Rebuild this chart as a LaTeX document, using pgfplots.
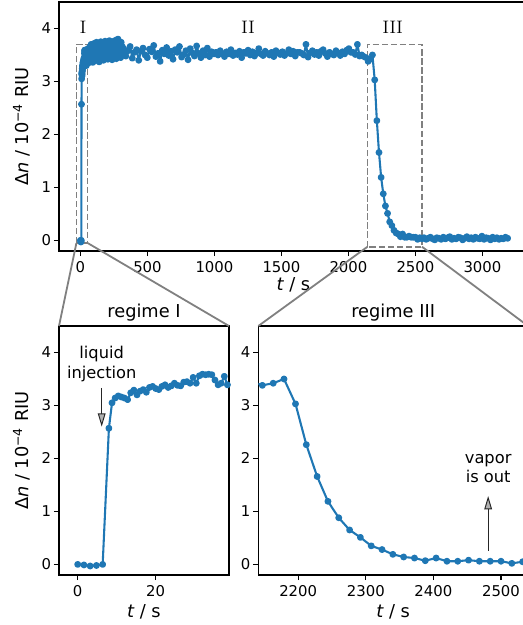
\documentclass[border=0pt]{standalone}
\usepackage{fontspec}
\usepackage{pgfplots}
\pgfplotsset{compat=1.18}
\usepackage{pgfplotstable}
\usetikzlibrary{arrows.meta}
\newfontfamily\dv{DejaVu Sans}
\definecolor{C0}{RGB}{31,119,180}

\pgfplotstableread{
x y
0 0.00
1.6 -0.01
3.2 -0.03
4.8 -0.02
6.4 0.00
8.0 2.57
8.8 3.05
9.6 3.14
10.4 3.18
11.2 3.16
12.0 3.14
12.8 3.11
13.6 3.24
14.4 3.29
15.2 3.20
16.0 3.27
16.8 3.30
17.6 3.25
18.4 3.34
19.2 3.36
20.0 3.32
20.8 3.30
21.6 3.36
22.4 3.39
23.2 3.34
24.0 3.37
24.8 3.42
25.6 3.38
26.4 3.37
27.2 3.44
28.0 3.45
28.8 3.42
29.6 3.53
30.4 3.42
31.2 3.56
32.0 3.59
32.8 3.58
33.6 3.59
34.4 3.58
35.2 3.48
36.0 3.39
36.8 3.42
37.6 3.55
38.4 3.39
39.2 3.45
}\tA

\pgfplotstableread{
x y
40 3.42
44 3.30
48 3.55
52 3.38
56 3.62
60 3.35
64 3.58
68 3.44
72 3.66
76 3.40
80 3.70
84 3.42
88 3.60
92 3.36
96 3.68
100 3.48
104 3.72
108 3.39
112 3.62
116 3.45
120 3.74
124 3.41
128 3.65
132 3.50
136 3.71
140 3.37
144 3.69
148 3.46
152 3.75
156 3.43
160 3.66
164 3.52
168 3.73
172 3.40
176 3.70
180 3.47
184 3.76
188 3.44
192 3.64
196 3.55
200 3.72
204 3.42
208 3.68
212 3.49
216 3.77
220 3.45
224 3.63
228 3.53
232 3.74
236 3.41
240 3.70
244 3.50
248 3.76
252 3.46
256 3.67
260 3.55
264 3.78
268 3.43
272 3.71
276 3.52
280 3.80
284 3.48
288 3.73
292 3.56
296 3.69
300 3.45
304 3.74
308 3.50
312 3.66
316 3.58
}\tB

\pgfplotstableread{
x y
323 3.62
339 3.48
355 3.58
371 3.66
387 3.44
403 3.55
419 3.60
435 3.40
451 3.57
467 3.63
483 3.50
499 3.45
515 3.61
531 3.56
547 3.68
563 3.47
579 3.53
595 3.38
611 3.59
627 3.52
643 3.64
659 3.49
675 3.57
691 3.42
707 3.60
723 3.55
739 3.66
755 3.46
771 3.51
787 3.58
803 3.41
819 3.62
835 3.54
851 3.48
867 3.67
883 3.53
899 3.45
915 3.58
931 3.50
947 3.63
963 3.47
979 3.56
995 3.52
1011 3.55
1027 3.50
1043 3.58
1059 3.53
1075 3.47
1091 3.56
1107 3.52
1123 3.60
1139 3.49
1155 3.54
1171 3.51
1187 3.57
1203 3.45
1219 3.55
1235 3.53
1251 3.59
1267 3.50
1283 3.56
1299 3.48
1315 3.54
1331 3.62
1347 3.52
1363 3.49
1379 3.57
1395 3.53
1411 3.50
1427 3.55
1443 3.47
1459 3.58
1475 3.54
1491 3.51
1507 3.56
1523 3.49
1539 3.53
1555 3.60
1571 3.52
1587 3.57
1603 3.48
1619 3.55
1635 3.55
1651 3.53
1667 3.50
1683 3.70
1699 3.46
1715 3.54
1731 3.58
1747 3.51
1763 3.55
1779 3.49
1795 3.57
1811 3.60
1827 3.53
1843 3.47
1859 3.55
1875 3.52
1891 3.50
1907 3.58
1923 3.54
1939 3.49
1955 3.56
1971 3.52
1987 3.59
2003 3.62
2019 3.55
2035 3.55
2051 3.51
2067 3.70
2083 3.48
2099 3.50
2115 3.47
}\tC

\pgfplotstableread{
x y
2131 3.45
2147 3.38
2163 3.42
2179 3.50
2196 3.03
2212 2.26
2228 1.66
2244 1.19
2260 0.88
2276 0.65
2292 0.51
2308 0.35
2324 0.28
2340 0.19
2356 0.14
2372 0.12
2388 0.07
2404 0.12
2420 0.06
2436 0.06
2452 0.08
2468 0.06
2484 0.06
2500 0.06
2516 0.02
2532 0.05
}\tD

\pgfplotstableread{
x y
2548 0.03
2564 0.05
2580 0.02
2596 0.04
2612 0.06
2628 0.03
2644 0.01
2660 0.05
2676 0.04
2692 0.02
2708 0.06
2724 0.03
2740 0.05
2756 0.07
2772 0.02
2788 0.04
2804 0.03
2820 0.06
2836 0.05
2852 0.01
2868 0.04
2884 0.07
2900 0.03
2916 0.05
2932 0.02
2948 0.06
2964 0.04
2980 0.03
2996 0.08
3012 0.02
3028 0.05
3044 0.04
3060 0.01
3076 0.06
3092 0.03
3108 0.05
3124 0.02
3140 0.04
3156 0.03
3172 0.06
3188 0.04
}\tE

\pgfplotsset{
  mpl/.style={
    scale only axis,
    axis line style={line width=0.85pt},
    tick align=outside,
    tick pos=left,
    major tick length=3.7pt,
    every tick/.style={black, line width=0.85pt},
    tick label style={font=\dv\fontsize{10.7}{12}\selectfont},
    yticklabel style={xshift=1.5pt},
    /pgf/number format/assume math mode=true,
    /pgf/number format/1000 sep={},
    scaled ticks=false,
    label style={font=\dv\fontsize{12.8}{15}\selectfont},
    title style={font=\dv\fontsize{12.8}{15}\selectfont},
    every axis title shift=0pt,
    ymin=-0.2, ymax=4.5,
    ytick={0,1,2,3,4},
    clip=true,
  },
  dat/.style={color=C0, line width=1.5pt, line join=round, line cap=round, mark=*, mark size=1.7pt, mark options={draw=none, fill=C0}},
}
\tikzset{rectd/.style={color=gray, line width=1.1pt, dash pattern=on 4.5pt off 2pt}}

\newcommand{\ylab}{Δ{\itshape n} / 10\textsuperscript{−4} RIU}
\newcommand{\xlab}{{\itshape t} / s}

\begin{document}
\begin{tikzpicture}[x=1pt,y=1pt]
\useasboundingbox (0,0) rectangle (375.84,450);

% ---------- top overview ----------
\begin{axis}[mpl, name=top, at={(42.48pt,269.28pt)}, anchor=south west,
  width=337.68pt, height=179.28pt,
  xmin=-160, xmax=3340, xtick={0,500,1000,1500,2000,2500,3000},
  xlabel={\xlab}, ylabel={\ylab},
  xlabel style={at={(axis description cs:0.5,-0.1606)}, anchor=base},
  ylabel style={at={(axis description cs:-0.0655,0.5)}, anchor=base},
]
\addplot[dat] table[x=x,y=y] {\tA};
\addplot[dat] table[x=x,y=y] {\tB};
\addplot[dat] table[x=x,y=y] {\tC};
\addplot[dat] table[x=x,y=y] {\tD};
\addplot[dat] table[x=x,y=y] {\tE};
\draw[rectd] (axis cs:-30,-0.05) rectangle (axis cs:54,3.70);
\draw[rectd] (axis cs:2142,-0.12) rectangle (axis cs:2549,3.70);
\coordinate (r1bl) at (axis cs:-30,-0.05);
\coordinate (r1br) at (axis cs:54,-0.05);
\coordinate (r3bl) at (axis cs:2142,-0.12);
\coordinate (r3br) at (axis cs:2549,-0.12);
\node[font=\rmfamily\fontsize{13}{15}\selectfont] at (axis cs:20,4.03) {I};
\node[font=\rmfamily\fontsize{13}{15}\selectfont] at (axis cs:1251,4.03) {II};
\node[font=\rmfamily\fontsize{13}{15}\selectfont] at (axis cs:2331,4.03) {III};
\end{axis}

% ---------- regime I ----------
\begin{axis}[mpl, name=bl, at={(42.48pt,36pt)}, anchor=south west,
  width=122.4pt, height=179.28pt,
  xmin=-4.8, xmax=38.8, xtick={0,20},
  xlabel={\xlab}, ylabel={\ylab}, title={regime I},
  xlabel style={at={(axis description cs:0.5,-0.172)}, anchor=base},
  ylabel style={at={(axis description cs:-0.1806,0.5)}, anchor=base},
  title style={at={(axis description cs:0.5,1.036)}, anchor=base},
]
\addplot[dat] table[x=x,y=y] {\tA};
\addplot[dat] table[x=x,y=y] {\tB};
\node[align=center, font=\dv\fontsize{11.7}{14}\selectfont] at (axis cs:6.15,3.78) {liquid\\injection};
\draw[line width=0.7pt, black!85, -{Triangle[length=9.5pt,width=5.5pt,fill=gray!60]}] (axis cs:6.15,3.33) -- (axis cs:6.15,2.60);
\end{axis}

% ---------- regime III ----------
\begin{axis}[mpl, name=br, at={(185.98pt,36pt)}, anchor=south west,
  width=194.2pt, height=179.28pt,
  xmin=2141, xmax=2540, xtick={2200,2300,2400,2500},
  xlabel={\xlab}, title={regime III},
  xlabel style={at={(axis description cs:0.5,-0.172)}, anchor=base},
  title style={at={(axis description cs:0.5,1.036)}, anchor=base},
]
\addplot[dat] table[x=x,y=y] {\tC};
\addplot[dat] table[x=x,y=y] {\tD};
\addplot[dat] table[x=x,y=y] {\tE};
\node[align=center, font=\dv\fontsize{11.7}{14}\selectfont] at (axis cs:2481,1.81) {vapor\\is out};
\draw[line width=0.7pt, black!85, -{Triangle[length=9.5pt,width=5.5pt,fill=gray!60]}] (axis cs:2481,0.26) -- (axis cs:2481,1.29);
\end{axis}

% ---------- connectors ----------
\draw[gray, line width=1.3pt] (r1bl) -- (bl.north west);
\draw[gray, line width=1.3pt] (r1br) -- (bl.north east);
\draw[gray, line width=1.3pt] (r3bl) -- (br.north west);
\draw[gray, line width=1.3pt] (r3br) -- (br.north east);
\end{tikzpicture}
\end{document}
